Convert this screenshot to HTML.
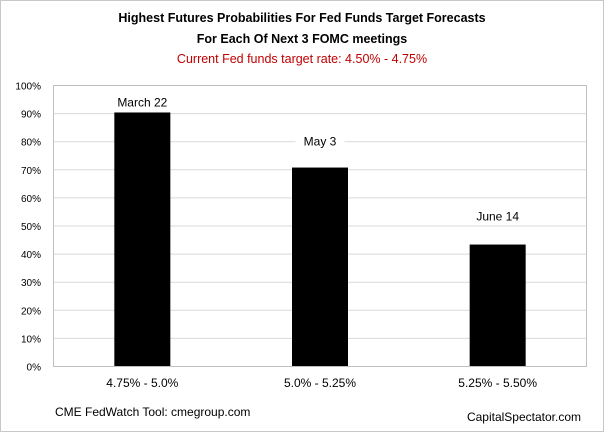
<!DOCTYPE html>
<html><head><meta charset="utf-8"><style>
body{margin:0;background:#fff;}
svg{display:block;font-family:"Liberation Sans",sans-serif;}
</style></head><body>
<svg width="605" height="433" viewBox="0 0 605 433">
<rect x="0.5" y="0.5" width="603" height="431" fill="#fff" stroke="#c8c8c8"/>
<text x="302" y="22" text-anchor="middle" font-size="12.5" font-weight="bold" fill="#000">Highest Futures Probabilities For Fed Funds Target Forecasts</text>
<text x="302" y="43" text-anchor="middle" font-size="12.5" font-weight="bold" fill="#000">For Each Of Next 3 FOMC meetings</text>
<text x="302" y="63" text-anchor="middle" font-size="12.5" fill="#c00000">Current Fed funds target rate: 4.50% - 4.75%</text>
<g id="grid"></g>
<g id="bars"></g>
<rect x="53.5" y="85.5" width="533" height="281" fill="none" stroke="#bfbfbf"/>
<text x="55" y="416" font-size="12" fill="#000">CME FedWatch Tool: cmegroup.com</text>
<text x="581" y="421" text-anchor="end" font-size="12" fill="#000">CapitalSpectator.com</text>
</svg>
<script>
const categories=["4.75% - 5.0%","5.0% - 5.25%","5.25% - 5.50%"];
const values=[90.4,70.8,43.4];
const dateLabels=["March 22","May 3","June 14"];
const tickValues=[0,10,20,30,40,50,60,70,80,90,100];
const labelGap=[6,22,24];
const NS="http://www.w3.org/2000/svg";
const x0=53.5,x1=586.5,yTop=85.5,yBot=366.5;
const y=v=>yBot-(v/100)*(yBot-yTop);
const band=(x1-x0)/categories.length;
const xc=i=>x0+band*(i+0.5);
const grid=document.getElementById('grid'),bars=document.getElementById('bars');
function mk(t,a,p){const e=document.createElementNS(NS,t);for(const k in a)e.setAttribute(k,a[k]);p.appendChild(e);return e;}
tickValues.forEach(v=>{
  if(v>0&&v<100){const l=mk('line',{x1:x0,x2:x1,y1:y(v),y2:y(v),stroke:'#d9d9d9'},grid);
  
  }
  const t=mk('text',{x:41,y:y(v)+4,'text-anchor':'end','font-size':'10',fill:'#000'},grid);
  
  
  t.textContent=v+'%';
});
const bw=56;
values.forEach((v,i)=>{
  const r=mk('rect',{x:xc(i)-bw/2,y:y(v),width:bw,height:yBot-y(v),fill:'#000'},bars);
  
  
  const ly=y(v)-labelGap[i];
  const w=dateLabels[i].length*7+14;
  const bg=mk('rect',{x:xc(i)-w/2,y:ly-16,width:w,height:20,fill:'#fff'},bars);
  
  
  const t=mk('text',{x:xc(i),y:ly,'text-anchor':'middle','font-size':'12',fill:'#000'},bars);
  
  
  t.textContent=dateLabels[i];
  const c=mk('text',{x:xc(i),y:387,'text-anchor':'middle','font-size':'12',fill:'#000'},bars);
  
  
  c.textContent=categories[i];
});
</script>
</body></html>
